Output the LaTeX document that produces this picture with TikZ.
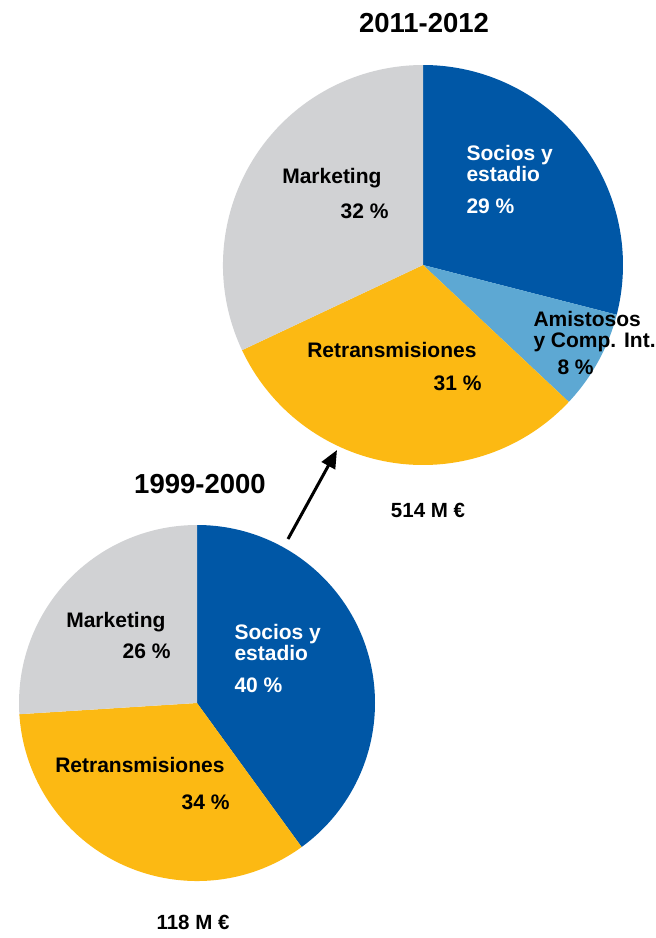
\documentclass[tikz,border=0pt]{standalone}
\usepackage{fontspec}
\setmainfont{Liberation Sans}
\usetikzlibrary{arrows.meta,positioning}
\definecolor{socios}{RGB}{0,87,166}
\definecolor{amistosos}{RGB}{93,168,211}
\definecolor{retrans}{RGB}{252,185,19}
\definecolor{mkt}{RGB}{209,210,212}
\tikzset{
every picture/.style={
line width=1pt
}}
\tikzset{
  lbl/.style={font=\bfseries\fontsize{21}{20.5}\selectfont, inner sep=0pt, align=left},
  wlbl/.style={lbl, text=white},
  year/.style={font=\bfseries\fontsize{27.5}{30}\selectfont, inner sep=0pt},
  total/.style={font=\bfseries\fontsize{20.5}{21}\selectfont, inner sep=0pt}
}
\begin{document}
\begin{tikzpicture}[x=1pt, y=-1pt]
  \useasboundingbox (0,0) rectangle (656,938);
  \coordinate (top) at (423,265);
  \coordinate (bot) at (197,703);

  % 2011-2012
  \foreach \from/\to/\col in {-90/14.4/socios, 14.4/43.2/amistosos, 43.2/154.8/retrans, 154.8/270/mkt} {
    \fill[\col] (top) -- ++(\from:200) arc (\from:\to:200) -- cycle;
  }
  % 1999-2000
  \foreach \from/\to/\col in {-90/54/socios, 54/176.4/retrans, 176.4/270/mkt} {
    \fill[\col] (bot) -- ++(\from:178) arc (\from:\to:178) -- cycle;
  }

  \node[year, anchor=base] (y2011) at (424,32) {2011-2012};
  \node[year, anchor=base] (y1999) at (200,493) {1999-2000};
  \node[total, anchor=base] (t2011) at (428,517) {514 M €};
  \node[total, anchor=base] (t1999) at (193,929) {118 M €};

  \node[wlbl, anchor=base west] (s1) at (466,181) {Socios y\\estadio};
  \node[wlbl, anchor=base west] (s1p) at (466,213) {29 \%};
  \node[lbl, anchor=base west] (a1) at (533,347) {Amistosos\\y Comp. Int.};
  \node[lbl, anchor=base west] (a1p) at (557,374) {8 \%};
  \node[lbl, anchor=base east] (r1) at (477,357) {Retransmisiones};
  \node[lbl, anchor=base east] (r1p) at (482,390) {31 \%};
  \node[lbl, anchor=base east] (m1) at (382,183) {Marketing};
  \node[lbl, anchor=base east] (m1p) at (389,218) {32 \%};

  \node[wlbl, anchor=base west] (s2) at (234,660) {Socios y\\estadio};
  \node[wlbl, anchor=base west] (s2p) at (234,692) {40 \%};
  \node[lbl, anchor=base east] (m2) at (166,627) {Marketing};
  \node[lbl, anchor=base east] (m2p) at (171,658) {26 \%};
  \node[lbl, anchor=base east] (r2) at (225,772) {Retransmisiones};
  \node[lbl, anchor=base east] (r2p) at (230,809) {34 \%};

  \coordinate (from) at (288,539);
  \coordinate (to) at (337,450);
  \draw[line width=3pt, -{Triangle[length=18pt, width=15pt]}] (from) -- (to);
\end{tikzpicture}
\end{document}
